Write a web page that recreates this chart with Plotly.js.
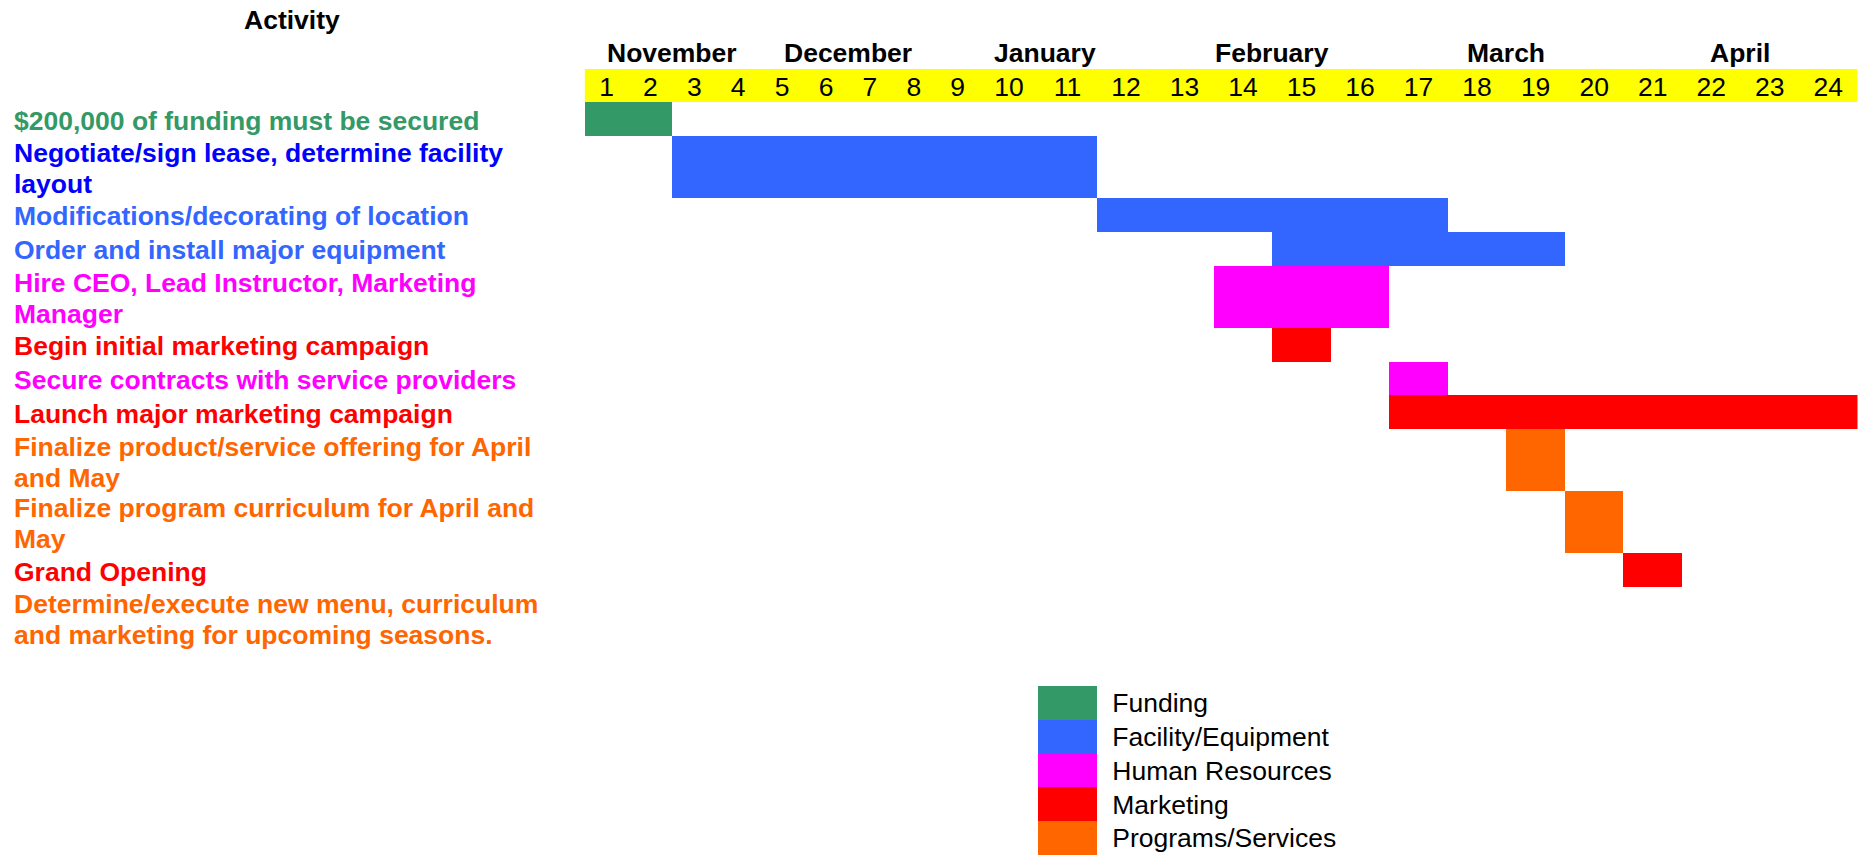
<!DOCTYPE html>
<html><head><meta charset="utf-8">
<script src="https://cdn.plot.ly/plotly-3.0.1.min.js"></script>
<style>html,body{margin:0;padding:0;background:#fff}#chart{width:1867px;height:855px}</style>
</head><body><div id="chart"></div>
<script>
// ---------------- data ----------------
const activities = [
  '$200,000 of funding must be secured',
  'Negotiate/sign lease, determine facility<br>layout',
  'Modifications/decorating of location',
  'Order and install major equipment',
  'Hire CEO, Lead Instructor, Marketing<br>Manager',
  'Begin initial marketing campaign',
  'Secure contracts with service providers',
  'Launch major marketing campaign',
  'Finalize product/service offering for April<br>and May',
  'Finalize program curriculum for April and<br>May',
  'Grand Opening',
  'Determine/execute new menu, curriculum<br>and marketing for upcoming seasons.'
];
const activityCategory = [
  'Funding', 'Facility/Equipment', 'Facility/Equipment', 'Facility/Equipment',
  'Human Resources', 'Marketing', 'Human Resources', 'Marketing',
  'Programs/Services', 'Programs/Services', 'Marketing', 'Programs/Services'
];
const startWeek = [1, 3, 12, 15, 14, 15, 17, 17, 19, 20, 21, null];
const endWeek   = [2, 11, 17, 19, 16, 15, 17, 24, 19, 20, 21, null];
const categories = ['Funding', 'Facility/Equipment', 'Human Resources', 'Marketing', 'Programs/Services'];
const weekLabels = ['1','2','3','4','5','6','7','8','9','10','11','12','13','14','15','16','17','18','19','20','21','22','23','24'];
const months = ['November', 'December', 'January', 'February', 'March', 'April'];
const monthFirstWeek = [1, 5, 9, 13, 17, 21];
const weeksPerMonth = 4;

// ---------------- style / layout ----------------
const W = 1867, H = 855;
const FONT = '"Liberation Sans", Arial, Helvetica, sans-serif';
const FS = 26.5;
const catColor = {
  'Funding': '#339966', 'Facility/Equipment': '#3366FF', 'Human Resources': '#FF00FF',
  'Marketing': '#FF0000', 'Programs/Services': '#FF6600'
};
const labelColorOverride = {1: '#0000FF'};
const NARROW_WEEKS = 9, NARROW_W = 0.75;   // first weeks are drawn narrower
const DOUBLE_ROW = 1.825;                 // height of a two-line row
const LINE_GAP = 0.457;                   // half the label line spacing, in row units
const LABEL_SHIFT = 0.05;                 // labels sit slightly below row centre
const LABEL_X = 12;                       // px from the left edge
const PLOT = {left: 584.6, right: 1857.5, top: 102, bottom: 649};
const BAND = {top: 69};
const LEG = {left: 1038, right: 1097, top: 686, bottom: 855};

function edge(w) { // left edge of week w on the axis
  return w <= NARROW_WEEKS + 1 ? (w - 1) * NARROW_W : NARROW_WEEKS * NARROW_W + (w - NARROW_WEEKS - 1);
}
const nWeeks = weekLabels.length;
const xMax = edge(nWeeks + 1);
const tickCenters = weekLabels.map((_, i) => (edge(i + 1) + edge(i + 2)) / 2);

const rowLines = activities.map(a => a.split('<br>'));
const rowH = rowLines.map(l => (l.length > 1 ? DOUBLE_ROW : 1));
const rowCenter = [];
let acc = 0;
rowH.forEach(h => { rowCenter.push(acc + h / 2); acc += h; });
const yMax = acc;

// bars per category
const traces = categories.map(cat => {
  const idx = activities.map((_, i) => i).filter(i => activityCategory[i] === cat && startWeek[i] != null);
  return {
    type: 'bar', orientation: 'h', xaxis: 'x', yaxis: 'y', showlegend: false,
    y: idx.map(i => rowCenter[i]),
    base: idx.map(i => edge(startWeek[i])),
    x: idx.map(i => edge(endWeek[i] + 1) - edge(startWeek[i])),
    width: idx.map(i => rowH[i]),
    marker: {color: catColor[cat], line: {width: 0}},
    hoverinfo: 'skip'
  };
});
// legend swatches
traces.push({
  type: 'bar', orientation: 'h', xaxis: 'x2', yaxis: 'y2', showlegend: false,
  y: categories, x: categories.map(() => 1), width: 1,
  marker: {color: categories.map(c => catColor[c]), line: {width: 0}},
  hoverinfo: 'skip'
});

const annotations = [];
rowLines.forEach((lines, i) => {
  lines.forEach((line, k) => {
    const off = lines.length > 1 ? (k === 0 ? -LINE_GAP : LINE_GAP) : 0;
    annotations.push({
      xref: 'paper', yref: 'y', x: LABEL_X / W, y: rowCenter[i] + off + LABEL_SHIFT,
      xanchor: 'left', yanchor: 'middle', align: 'left', showarrow: false,
      text: '<b>' + line + '</b>',
      font: {family: FONT, size: FS, color: labelColorOverride[i] || catColor[activityCategory[i]]}
    });
  });
});
months.forEach((m, i) => {
  annotations.push({
    xref: 'x', yref: 'paper', x: (edge(monthFirstWeek[i]) + edge(monthFirstWeek[i] + weeksPerMonth)) / 2,
    y: 1 - 53 / H, xanchor: 'center', yanchor: 'middle', showarrow: false,
    text: '<b>' + m + '</b>', font: {family: FONT, size: FS, color: '#000'}
  });
});
annotations.push({
  xref: 'paper', yref: 'paper', x: 292 / W, y: 1 - 20 / H, xanchor: 'center', yanchor: 'middle',
  showarrow: false, text: '<b>Activity</b>', font: {family: FONT, size: FS, color: '#000'}
});

const layout = {
  width: W, height: H, margin: {l: 0, r: 0, t: 0, b: 0},
  paper_bgcolor: '#fff', plot_bgcolor: 'rgba(0,0,0,0)',
  barmode: 'overlay', bargap: 0, hovermode: false, showlegend: false,
  font: {family: FONT, size: FS, color: '#000'},
  xaxis: {
    domain: [PLOT.left / W, PLOT.right / W], range: [0, xMax], anchor: 'y', side: 'top',
    tickmode: 'array', tickvals: tickCenters, ticktext: weekLabels, ticks: '',
    showgrid: false, zeroline: false, showline: false, fixedrange: true,
    tickfont: {family: FONT, size: FS, color: '#000'}
  },
  yaxis: {
    domain: [1 - PLOT.bottom / H, 1 - PLOT.top / H], range: [yMax, 0], anchor: 'x',
    showticklabels: false, ticks: '', showgrid: false, zeroline: false, showline: false, fixedrange: true
  },
  xaxis2: {
    domain: [LEG.left / W, LEG.right / W], range: [0, 1], anchor: 'y2',
    visible: false, fixedrange: true
  },
  yaxis2: {
    domain: [1 - LEG.bottom / H, 1 - LEG.top / H], anchor: 'x2', side: 'right',
    type: 'category', range: [categories.length - 0.5, -0.5],
    ticks: 'outside', ticklen: 9, tickcolor: 'rgba(0,0,0,0)',
    showgrid: false, zeroline: false, showline: false, fixedrange: true,
    tickfont: {family: FONT, size: FS, color: '#000'}
  },
  shapes: [{
    type: 'rect', layer: 'below', xref: 'x', yref: 'paper',
    x0: 0, x1: xMax, y0: 1 - PLOT.top / H, y1: 1 - BAND.top / H,
    fillcolor: '#FFFF00', line: {width: 0}
  }],
  annotations: annotations
};

Plotly.newPlot('chart', traces, layout, {displayModeBar: false, staticPlot: true});
</script>
</body></html>
